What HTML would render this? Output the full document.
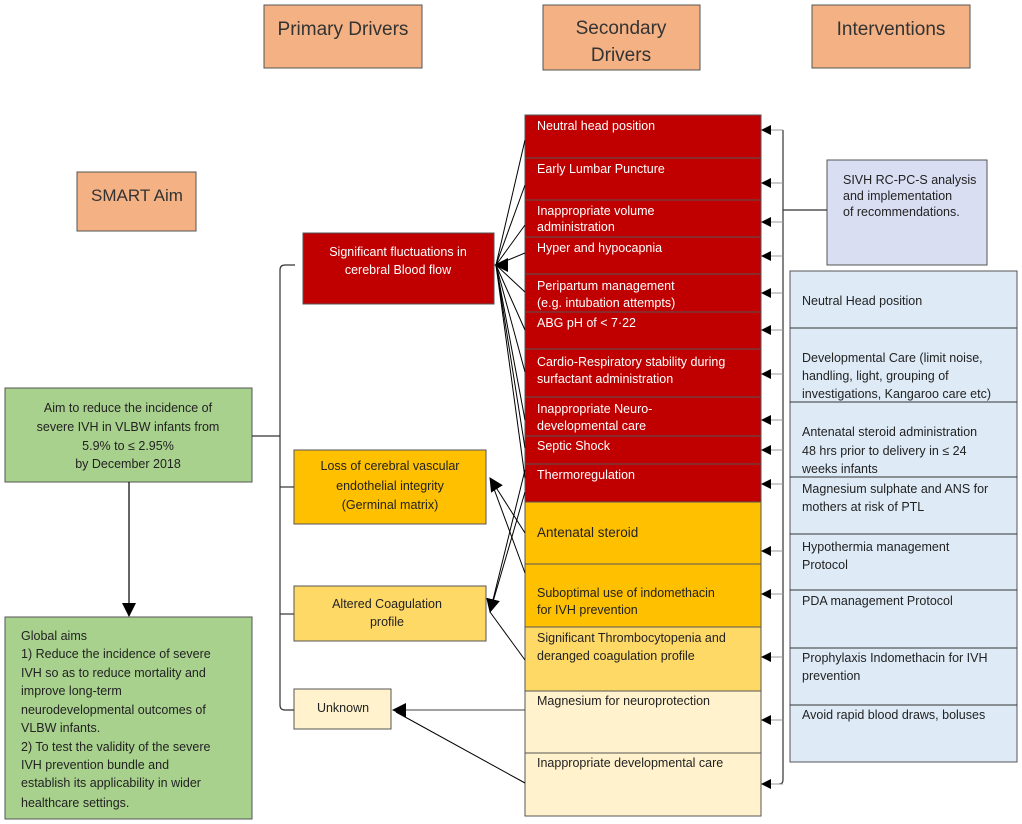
<!DOCTYPE html>
<html><head><meta charset="utf-8"><style>
html,body{margin:0;padding:0;background:#fff;}
svg{display:block;font-family:"Liberation Sans",sans-serif;}
text{font-size:12.5px;}
</style></head><body>
<svg width="1022" height="824" viewBox="0 0 1022 824" xmlns="http://www.w3.org/2000/svg">
<defs>
<marker id="a" markerWidth="10" markerHeight="10" refX="9" refY="5" orient="auto" markerUnits="userSpaceOnUse"><path d="M0,0 L10,5 L0,10 z" fill="#000"/></marker>
<marker id="b" markerWidth="14" markerHeight="14" refX="13" refY="7" orient="auto" markerUnits="userSpaceOnUse"><path d="M0,0 L14,7 L0,14 z" fill="#000"/></marker>
</defs>
<g stroke="#555" stroke-width="1">
<rect x="264" y="5" width="158" height="63" fill="#F4B183"/>
<rect x="543" y="5" width="157" height="65" fill="#F4B183"/>
<rect x="812" y="5" width="158" height="63" fill="#F4B183"/>
<rect x="77" y="172" width="119" height="59" fill="#F4B183"/>
<rect x="5" y="388" width="247" height="94" fill="#A9D18E"/>
<rect x="5" y="617" width="247" height="202" fill="#A9D18E"/>
<rect x="303" y="233" width="191" height="71" fill="#C00000"/>
<rect x="294" y="450" width="192" height="74" fill="#FFC000"/>
<rect x="294" y="586" width="192" height="55" fill="#FFD966"/>
<rect x="294" y="689" width="97" height="40" fill="#FFF2CC"/>
<rect x="525" y="115" width="236" height="43" fill="#C00000"/>
<rect x="525" y="158" width="236" height="42" fill="#C00000"/>
<rect x="525" y="200" width="236" height="37" fill="#C00000"/>
<rect x="525" y="237" width="236" height="37" fill="#C00000"/>
<rect x="525" y="274" width="236" height="38" fill="#C00000"/>
<rect x="525" y="312" width="236" height="37" fill="#C00000"/>
<rect x="525" y="349" width="236" height="48" fill="#C00000"/>
<rect x="525" y="397" width="236" height="39" fill="#C00000"/>
<rect x="525" y="436" width="236" height="28" fill="#C00000"/>
<rect x="525" y="464" width="236" height="38" fill="#C00000"/>
<rect x="525" y="502" width="236" height="62" fill="#FFC000"/>
<rect x="525" y="564" width="236" height="63" fill="#FFC000"/>
<rect x="525" y="627" width="236" height="64" fill="#FFD966"/>
<rect x="525" y="691" width="236" height="62" fill="#FFF2CC"/>
<rect x="525" y="753" width="236" height="63" fill="#FFF2CC"/>
<rect x="827" y="160" width="160" height="105" fill="#D9DEF2"/>
<rect x="790" y="271" width="227" height="491" fill="#DEEBF7"/>
</g>
<g stroke="#333" stroke-width="1">
<line x1="790" y1="328" x2="1017" y2="328"/><line x1="790" y1="402" x2="1017" y2="402"/>
<line x1="790" y1="477" x2="1017" y2="477"/><line x1="790" y1="534" x2="1017" y2="534"/>
<line x1="790" y1="590" x2="1017" y2="590"/><line x1="790" y1="648" x2="1017" y2="648"/>
<line x1="790" y1="705" x2="1017" y2="705"/>
</g>
<g fill="none" stroke="#333" stroke-width="1.2">
<path d="M295,265 H285 Q280,265 280,270 V705 Q280,710 285,710 H294"/>
<line x1="252" y1="436" x2="280" y2="436"/>
<line x1="280" y1="487" x2="294" y2="487"/>
<line x1="280" y1="614" x2="294" y2="614"/>
<path d="M783,130 V780 Q783,784 779,784"/>
<line x1="783" y1="210" x2="827" y2="210"/>
</g>
<line x1="129" y1="482" x2="129" y2="616" stroke="#000" stroke-width="1.2" marker-end="url(#b)"/>
<g stroke="#999" stroke-width="1">
<line x1="783" y1="130" x2="762" y2="130" marker-end="url(#a)"/><line x1="783" y1="183" x2="762" y2="183" marker-end="url(#a)"/>
<line x1="783" y1="222" x2="762" y2="222" marker-end="url(#a)"/><line x1="783" y1="256" x2="762" y2="256" marker-end="url(#a)"/>
<line x1="783" y1="293" x2="762" y2="293" marker-end="url(#a)"/><line x1="783" y1="330" x2="762" y2="330" marker-end="url(#a)"/>
<line x1="783" y1="374" x2="762" y2="374" marker-end="url(#a)"/><line x1="783" y1="420" x2="762" y2="420" marker-end="url(#a)"/>
<line x1="783" y1="450" x2="762" y2="450" marker-end="url(#a)"/><line x1="783" y1="484" x2="762" y2="484" marker-end="url(#a)"/>
<line x1="783" y1="551" x2="762" y2="551" marker-end="url(#a)"/><line x1="783" y1="594" x2="762" y2="594" marker-end="url(#a)"/>
<line x1="783" y1="657" x2="762" y2="657" marker-end="url(#a)"/><line x1="783" y1="720" x2="762" y2="720" marker-end="url(#a)"/>
<line x1="783" y1="784" x2="762" y2="784" marker-end="url(#a)"/>
</g>
<g stroke="#000" stroke-width="1" fill="none">
<line x1="525" y1="140" x2="496" y2="265"/><line x1="525" y1="185" x2="496" y2="265"/>
<line x1="525" y1="225" x2="496" y2="265"/><line x1="525" y1="253" x2="496" y2="265"/>
<line x1="525" y1="292" x2="496" y2="265"/><line x1="525" y1="330" x2="496" y2="265"/>
<line x1="525" y1="372" x2="496" y2="265"/><line x1="525" y1="420" x2="496" y2="265"/>
<line x1="525" y1="448" x2="496" y2="265"/><line x1="525" y1="478" x2="496" y2="265"/>
<line x1="503" y1="265" x2="495" y2="265" marker-end="url(#b)"/>
<line x1="525" y1="533" x2="490" y2="478" marker-end="url(#b)"/>
<line x1="525" y1="573" x2="490" y2="478"/>
<line x1="525" y1="470" x2="490" y2="612" marker-end="url(#b)"/>
<line x1="525" y1="492" x2="490" y2="612"/>
<line x1="525" y1="660" x2="490" y2="612"/>
<line x1="525" y1="710" x2="393" y2="710" stroke="#444" marker-end="url(#b)"/>
<line x1="525" y1="783" x2="396" y2="712"/>
</g>
<g fill="#333" text-anchor="middle">
<text x="343" y="35" style="font-size:19px">Primary Drivers</text>
<text x="621" y="34" style="font-size:19px">Secondary</text>
<text x="621" y="61" style="font-size:19px">Drivers</text>
<text x="891" y="35" style="font-size:19px">Interventions</text>
<text x="137" y="201" style="font-size:17px">SMART Aim</text>
</g>
<g fill="#222" text-anchor="middle" style="font-size:13px">
<text x="128" y="412">Aim to reduce the incidence of</text>
<text x="128" y="431">severe IVH in VLBW infants from</text>
<text x="128" y="450">5.9% to ≤ 2.95%</text>
<text x="128" y="468">by December 2018</text>
<text x="398" y="256" fill="#fff" style="font-size:12.5px">Significant fluctuations in</text>
<text x="398" y="274" fill="#fff" style="font-size:12.5px">cerebral Blood flow</text>
<text x="390" y="470">Loss of cerebral vascular</text>
<text x="390" y="490">endothelial integrity</text>
<text x="390" y="509">(Germinal matrix)</text>
<text x="387" y="608">Altered Coagulation</text>
<text x="387" y="626">profile</text>
<text x="343" y="712">Unknown</text>
</g>
<g fill="#222" style="font-size:12.5px">
<text x="21" y="640">Global aims</text>
<text x="21" y="658">1) Reduce the incidence of severe</text>
<text x="21" y="677">IVH so as to reduce mortality and</text>
<text x="21" y="695">improve long-term</text>
<text x="21" y="714">neurodevelopmental outcomes of</text>
<text x="21" y="732">VLBW infants.</text>
<text x="21" y="751">2) To test the validity of the severe</text>
<text x="21" y="769">IVH prevention bundle and</text>
<text x="21" y="787">establish its applicability in wider</text>
<text x="21" y="807">healthcare settings.</text>
</g>
<g fill="#fff" style="font-size:12.5px">
<text x="537" y="130">Neutral head position</text>
<text x="537" y="173">Early Lumbar Puncture</text>
<text x="537" y="215">Inappropriate volume</text>
<text x="537" y="231">administration</text>
<text x="537" y="252">Hyper and hypocapnia</text>
<text x="537" y="290">Peripartum management</text>
<text x="537" y="307">(e.g. intubation attempts)</text>
<text x="537" y="327">ABG pH of &lt; 7·22</text>
<text x="537" y="366">Cardio-Respiratory stability during</text>
<text x="537" y="383">surfactant administration</text>
<text x="537" y="413">Inappropriate Neuro-</text>
<text x="537" y="430">developmental care</text>
<text x="537" y="450">Septic Shock</text>
<text x="537" y="479">Thermoregulation</text>
</g>
<g fill="#222" style="font-size:12.5px">
<text x="537" y="537" style="font-size:13.5px">Antenatal steroid</text>
<text x="537" y="597">Suboptimal use of indomethacin</text>
<text x="537" y="614">for IVH prevention</text>
<text x="537" y="642">Significant Thrombocytopenia and</text>
<text x="537" y="660">deranged coagulation profile</text>
<text x="537" y="705">Magnesium for neuroprotection</text>
<text x="537" y="767">Inappropriate developmental care</text>
<text x="843" y="184">SIVH RC-PC-S analysis</text>
<text x="843" y="200">and implementation</text>
<text x="843" y="216">of recommendations.</text>
<text x="802" y="305">Neutral Head position</text>
<text x="802" y="362">Developmental Care (limit noise,</text>
<text x="802" y="380">handling, light, grouping of</text>
<text x="802" y="398">investigations, Kangaroo care etc)</text>
<text x="802" y="436">Antenatal steroid administration</text>
<text x="802" y="455">48 hrs prior to delivery in ≤ 24</text>
<text x="802" y="473">weeks infants</text>
<text x="802" y="493">Magnesium sulphate and ANS for</text>
<text x="802" y="511">mothers at risk of PTL</text>
<text x="802" y="551">Hypothermia management</text>
<text x="802" y="569">Protocol</text>
<text x="802" y="605">PDA management Protocol</text>
<text x="802" y="662">Prophylaxis Indomethacin for IVH</text>
<text x="802" y="680">prevention</text>
<text x="802" y="719">Avoid rapid blood draws, boluses</text>
</g>
</svg>
</body></html>
